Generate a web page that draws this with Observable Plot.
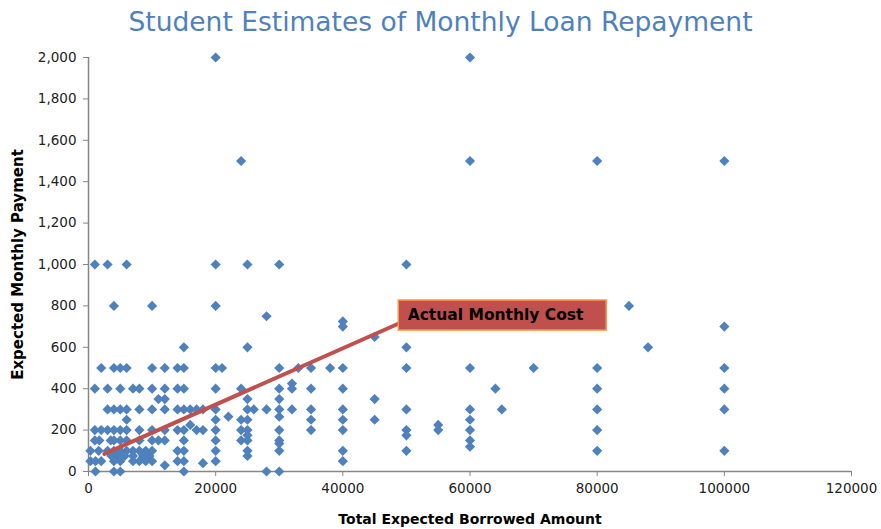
<!DOCTYPE html>
<html>
<head>
<meta charset="utf-8">
<script src="https://cdn.jsdelivr.net/npm/d3@7"></script>
<script src="https://cdn.jsdelivr.net/npm/@observablehq/plot@0.6"></script>
<style>
  html, body { margin: 0; padding: 0; background: #fff; }
  #title { width: 881px; height: 44px; line-height: 44px; text-align: center;
           font-family: "DejaVu Sans", Verdana, sans-serif; font-size: 26.5px; color: #4F81BD; }
</style>
</head>
<body>
<div id="title">Student Estimates of Monthly Loan Repayment</div>
<div id="chart"></div>
<script>
// Borrowed amounts (x) grouped by the expected monthly payment (y)
const pay2000 = [20000, 60000];
const pay1500 = [24000, 60000, 80000, 100000];
const pay1000 = [1000, 3000, 6000, 20000, 25000, 30000, 50000];
const pay800  = [4000, 10000, 20000, 85000];
const pay750  = [28000];
const pay725  = [40000];
const pay700  = [40000, 100000];
const pay650  = [45000];
const pay600  = [15000, 25000, 50000, 88000];
const pay500  = [2000, 4000, 5000, 6000, 10000, 12000, 14000, 15000, 20000, 21000, 30000, 33000, 35000, 38000, 40000, 50000, 60000, 70000, 80000, 100000];
const pay425  = [32000];
const pay400  = [1000, 3000, 5000, 7000, 8000, 10000, 12000, 14000, 15000, 20000, 24000, 30000, 32000, 35000, 40000, 64000, 80000, 100000];
const pay350  = [11000, 12000, 25000, 30000, 45000];
const pay300  = [3000, 4000, 5000, 6000, 8000, 10000, 12000, 14000, 15000, 16000, 17000, 18000, 20000, 25000, 26000, 28000, 30000, 32000, 35000, 40000, 50000, 60000, 65000, 80000, 100000];
const pay265  = [22000, 30000];
const pay250  = [6000, 20000, 24000, 25000, 35000, 40000, 45000, 60000];
const pay225  = [16000, 55000];
const pay200  = [1000, 2000, 3000, 4000, 5000, 6000, 8000, 10000, 12000, 14000, 15000, 17000, 18000, 20000, 24000, 25000, 30000, 35000, 40000, 50000, 55000, 60000, 80000];
const pay175  = [25000, 50000];
const pay150  = [1000, 1700, 3500, 4000, 5000, 6000, 8000, 10000, 11000, 12000, 15000, 20000, 24000, 25000, 30000, 60000];
const pay135  = [30000];
const pay120  = [60000];
const pay100  = [300, 1600, 3000, 4000, 5000, 6000, 7000, 8000, 9000, 10000, 14000, 15000, 20000, 25000, 30000, 40000, 50000, 80000, 100000];
const pay75   = [3600, 4600, 5700, 7000, 8600, 9600, 25000];
const pay50   = [300, 1100, 2000, 4000, 5000, 7000, 8000, 9000, 10000, 14000, 15000, 20000, 40000];
const pay40   = [18000];
const pay30   = [12000];
const pay0    = [1100, 4000, 5000, 15000, 28000, 30000];

const groups = [
  [2000, pay2000], [1500, pay1500], [1000, pay1000], [800, pay800], [750, pay750],
  [725, pay725], [700, pay700], [650, pay650], [600, pay600], [500, pay500],
  [425, pay425], [400, pay400], [350, pay350], [300, pay300], [265, pay265],
  [250, pay250], [225, pay225], [200, pay200], [175, pay175], [150, pay150],
  [135, pay135], [120, pay120], [100, pay100], [75, pay75], [50, pay50],
  [40, pay40], [30, pay30], [0, pay0]
];
const estimates = groups.flatMap(([pay, xs]) => xs.map(b => ({borrowed: b, payment: pay})));

// "Actual Monthly Cost" trend line and its callout
const costLineX = [2500, 48800];
const costLineY = [85, 715];
const calloutText = "Actual Monthly Cost";
const calloutBoxX = [48800, 81500];
const calloutBoxY = [681, 826];
const calloutTextAt = [50200, 754];

const xTicks = [0, 20000, 40000, 60000, 80000, 100000, 120000];
const yTicks = [0, 200, 400, 600, 800, 1000, 1200, 1400, 1600, 1800, 2000];

const axisGray = "#868686";
const blue = "#4F81BD";
const red = "#C0504D";

const chart = Plot.plot({
  width: 881,
  height: 485,
  marginTop: 13,
  marginBottom: 58,
  marginLeft: 88,
  marginRight: 30,
  style: {fontFamily: "'DejaVu Sans', Verdana, sans-serif", fontSize: "13px", background: "#fff", color: "#222"},
  x: {domain: [0, 120000], ticks: xTicks, tickFormat: d => String(d)},
  y: {domain: [0, 2000], ticks: yTicks, tickFormat: d3.format(",")},
  marks: [
    Plot.axisX({ticks: xTicks, tickFormat: d => String(d), tickSize: 5, tickPadding: 7, stroke: axisGray, fill: "#222", label: null, fontSize: 13.5}),
    Plot.axisY({ticks: yTicks, tickFormat: d3.format(","), tickSize: 5, tickPadding: 7, stroke: axisGray, fill: "#222", label: null, fontSize: 13.5}),
    Plot.ruleY([0], {stroke: axisGray, strokeWidth: 1.5}),
    Plot.ruleX([0], {stroke: axisGray, strokeWidth: 1.5}),
    Plot.dot(estimates, {x: "borrowed", y: "payment", symbol: "diamond2", r: 4.6, fill: blue, stroke: "none"}),
    Plot.line(costLineX.map((x, i) => ({x, y: costLineY[i]})), {x: "x", y: "y", stroke: red, strokeWidth: 4}),
    Plot.rect([{x1: calloutBoxX[0], x2: calloutBoxX[1], y1: calloutBoxY[0], y2: calloutBoxY[1]}],
      {x1: "x1", x2: "x2", y1: "y1", y2: "y2", fill: red, stroke: "#F79646", strokeWidth: 1.5}),
    Plot.text([{x: calloutTextAt[0], y: calloutTextAt[1], t: calloutText}],
      {x: "x", y: "y", text: "t", textAnchor: "start", fontWeight: "bold", fontSize: 15.5, fill: "#000"}),
    Plot.text(["Expected Monthly Payment"], {frameAnchor: "left", textAnchor: "middle", rotate: -90, dx: -70, fontWeight: "bold", fontSize: 15, fill: "#000"}),
    Plot.text(["Total Expected Borrowed Amount"], {frameAnchor: "bottom", textAnchor: "middle", dy: 52, fontWeight: "bold", fontSize: 14, fill: "#000"})
  ]
});
document.getElementById("chart").appendChild(chart);
</script>
</body>
</html>
